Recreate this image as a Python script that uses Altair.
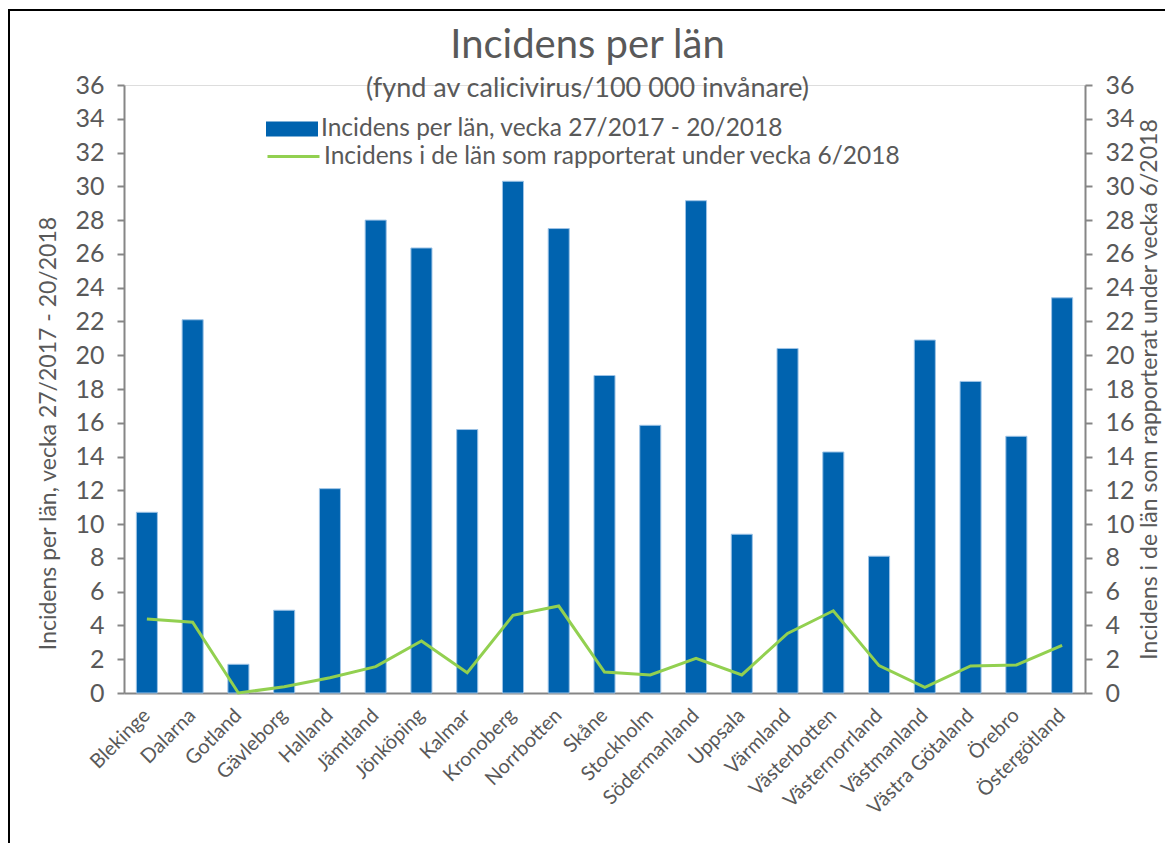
import altair as alt
import pandas as pd

lan = ["Blekinge", "Dalarna", "Gotland", "Gävleborg", "Halland", "Jämtland",
       "Jönköping", "Kalmar", "Kronoberg", "Norrbotten", "Skåne", "Stockholm",
       "Södermanland", "Uppsala", "Värmland", "Västerbotten", "Västernorrland",
       "Västmanland", "Västra Götaland", "Örebro", "Östergötland"]
incidens_period = [10.7, 22.1, 1.7, 4.9, 12.1, 28.0, 26.35, 15.6, 30.3, 27.5, 18.8,
                   15.85, 29.15, 9.4, 20.4, 14.27, 8.1, 20.9, 18.45, 15.2, 23.4]
incidens_v6 = [4.38, 4.19, 0.0, 0.37, 0.9, 1.56, 3.08, 1.2, 4.6, 5.15, 1.24,
               1.07, 2.05, 1.07, 3.53, 4.87, 1.62, 0.34, 1.6, 1.66, 2.82]
y_ticks = list(range(0, 37, 2))

serie_bar = "Incidens per län, vecka 27/2017 - 20/2018"
serie_line = "Incidens i de län som rapporterat under vecka 6/2018"

df = pd.DataFrame({"lan": lan, "period": incidens_period, "v6": incidens_v6})

FONT = "Lato"
GREY = "#595959"
AXC = "#868686"

xenc = alt.X("lan:N", sort=lan,
             scale=alt.Scale(paddingInner=0.54, paddingOuter=0.27),
             axis=alt.Axis(title=None, labelAngle=315, labelAlign="right",
                           labelBaseline="middle", labelPadding=19, ticks=False,
                           labelFontSize=20, labelColor=GREY, labelFont=FONT,
                           domainColor=AXC, domainWidth=2))

common_axis = dict(values=y_ticks, titleFontSize=23, titleFont=FONT,
                   titleColor=GREY, titleFontWeight="normal",
                   labelFontSize=25, labelColor=GREY, labelFont=FONT,
                   labelPadding=13, tickSize=7, tickColor=AXC, tickWidth=2,
                   domainColor=AXC, domainWidth=2, grid=False)

bars = alt.Chart(df).mark_bar(stroke="#9DC3E6", strokeWidth=1).encode(
    x=xenc,
    y=alt.Y("period:Q", scale=alt.Scale(domain=[0, 36], nice=False),
            axis=alt.Axis(orient="left", title=serie_bar, titlePadding=14,
                          titleY=348, **common_axis)),
    fill=alt.Fill("s:N", scale=alt.Scale(domain=[serie_bar], range=["#0063AF"]),
                  legend=alt.Legend(orient="none", legendX=142, legendY=18,
                                    title=None, padding=0,
                                    symbolType="M-1,-0.29L1,-0.29L1,0.29L-1,0.29Z",
                                    symbolSize=2704, symbolStrokeWidth=0,
                                    labelFontSize=24.5, labelColor=GREY,
                                    labelFont=FONT, labelOffset=3, labelLimit=800)),
).transform_calculate(s=f"'{serie_bar}'")

line = alt.Chart(df).mark_line(strokeWidth=3).encode(
    x=xenc,
    y=alt.Y("v6:Q", scale=alt.Scale(domain=[0, 36], nice=False),
            axis=alt.Axis(orient="right", title=serie_line, titleAngle=270,
                          titlePadding=27, **common_axis)),
    stroke=alt.Stroke("s:N", scale=alt.Scale(domain=[serie_line], range=["#92D050"]),
                      legend=alt.Legend(orient="none", legendX=142, legendY=44,
                                        title=None, padding=0,
                                        symbolType="stroke", symbolSize=2704,
                                        symbolStrokeWidth=3,
                                        labelFontSize=24.5, labelColor=GREY,
                                        labelFont=FONT, labelOffset=3,
                                        labelLimit=800)),
).transform_calculate(s=f"'{serie_line}'")

frame = alt.Chart(alt.Data(values=[{"f": 1}])).mark_rect(
    fill=None, stroke="black", strokeWidth=2
).encode(x=alt.value(-115), x2=alt.value(1044), y=alt.value(-75), y2=alt.value(820))

chart = alt.layer(frame, bars, line).resolve_scale(
    y="independent", fill="independent", stroke="independent"
).properties(
    width=961, height=608,
    padding={"left": 116, "top": 77, "right": 80, "bottom": 150},
    autosize=alt.AutoSizeParams(type="none"),
    title=alt.TitleParams(text="Incidens per län",
                          subtitle="(fynd av calicivirus/100 000 invånare)",
                          anchor="middle", frame="group", dx=-17, offset=-93,
                          fontSize=40, font=FONT, fontWeight="normal", color=GREY,
                          subtitleFontSize=27, subtitleFont=FONT,
                          subtitleColor=GREY, subtitlePadding=10),
).configure_view(stroke=None).configure(background="white")

chart.save("out.html", embed_options={"renderer": "svg", "actions": False})
